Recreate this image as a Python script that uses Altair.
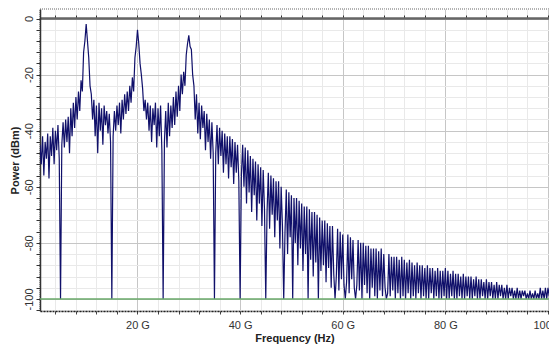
import altair as alt
import pandas as pd

STEP = 0.25  # GHz between samples

# Power (dBm), one block per 5 GHz
seg_01 = [-45, -52, -42, -56, -44, -50, -41, -57, -42, -49, -39, -52, -40, -47, -38, -50]
seg_05 = [-100, -45, -37, -46, -36, -44, -35, -48, -32, -42, -30, -39, -28, -36, -26, -33, -22, -26, -12, -8]
seg_10 = [-2, -8, -14, -24, -27, -36, -29, -42, -31, -48, -30, -40, -32, -45, -31, -38, -33, -41, -34, -44]
seg_15 = [-100, -42, -33, -40, -31, -38, -30, -41, -29, -36, -27, -34, -26, -33, -24, -30, -21, -26, -14, -10]
seg_20 = [-4, -9, -16, -20, -25, -33, -29, -36, -30, -40, -31, -44, -32, -38, -30, -46, -32, -42, -31, -47]
seg_25 = [-100, -44, -33, -46, -30, -42, -31, -39, -28, -38, -26, -35, -24, -33, -20, -27, -19, -24, -13, -9]
seg_30 = [-6, -10, -11, -20, -24, -36, -27, -41, -30, -43, -31, -39, -33, -47, -34, -44, -36, -50, -37, -48]
seg_35 = [-100, -48, -38, -52, -39, -49, -40, -55, -41, -52, -42, -57, -42, -53, -43, -59, -44, -55, -45, -58]
seg_40 = [-100, -56, -45, -60, -46, -66, -47, -62, -49, -69, -50, -63, -51, -72, -52, -66, -53, -74, -54, -68]
seg_45 = [-100, -69, -55, -75, -56, -70, -57, -78, -58, -72, -58, -82, -60, -74, -100, -76, -61, -84, -62, -78]
seg_50 = [-63, -100, -64, -80, -64, -88, -65, -82, -66, -90, -67, -84, -67, -100, -68, -86, -69, -92, -69, -87]
seg_55 = [-70, -100, -71, -90, -72, -88, -72, -94, -73, -89, -74, -96, -74, -91, -100, -92, -75, -97, -76, -93]
seg_60 = [-77, -95, -100, -94, -77, -98, -78, -93, -79, -96, -100, -95, -79, -97, -80, -100, -80, -95, -81, -98]
seg_65 = [-81, -100, -82, -96, -82, -99, -82, -100, -83, -97, -82, -99, -84, -96, -100, -98, -84, -99, -85, -97]
seg_70 = [-85, -100, -85, -98, -86, -100, -85, -99, -86, -100, -87, -98, -86, -100, -87, -99, -88, -100, -87, -98]
seg_75 = [-88, -100, -88, -99, -89, -100, -88, -100, -89, -98, -89, -100, -90, -99, -89, -100, -90, -100, -90, -99]
seg_80 = [-89, -100, -90, -100, -91, -99, -90, -100, -91, -100, -91, -99, -92, -100, -91, -100, -92, -99, -92, -100]
seg_85 = [-92, -100, -93, -99, -92, -100, -93, -100, -93, -99, -94, -100, -93, -100, -94, -99, -94, -100, -95, -100]
seg_90 = [-94, -100, -95, -99, -95, -100, -96, -100, -95, -100, -96, -99, -96, -100, -97, -100, -96, -100, -97, -100]
seg_95 = [-97, -99, -97, -100, -98, -100, -97, -100, -98, -100, -97, -100, -98, -100, -96, -100, -97, -100, -96, -100]
seg_100 = [-96, -99, -95, -100]

segments = [(1.0, seg_01), (5.0, seg_05), (10.0, seg_10), (15.0, seg_15), (20.0, seg_20),
            (25.0, seg_25), (30.0, seg_30), (35.0, seg_35), (40.0, seg_40), (45.0, seg_45),
            (50.0, seg_50), (55.0, seg_55), (60.0, seg_60), (65.0, seg_65), (70.0, seg_70),
            (75.0, seg_75), (80.0, seg_80), (85.0, seg_85), (90.0, seg_90), (95.0, seg_95),
            (100.0, seg_100)]

rows = []
for f0, vals in segments:
    for i, v in enumerate(vals):
        rows.append({"f": f0 + STEP * i, "p": v})
df = pd.DataFrame(rows)

x_ticks = list(range(4, 101, 4))
y_ticks = list(range(-104, 1, 4))
floor_level = [-100]

X_DOM = [1.0, 100.2]
Y_DOM = [-104.3, 3.4]
FONT = "Liberation Sans"

x_axis = alt.Axis(
    values=x_ticks,
    labelExpr="datum.value % 20 === 0 ? datum.value + ' G' : ''",
    title="Frequency (Hz)",
    titleFontWeight="bold", titleFontSize=11, titleColor="#222", titleFont=FONT,
    labelFontSize=11, labelColor="#333", labelFont=FONT, labelPadding=5,
    labelOverlap=False,
    grid=True,
    gridColor={"condition": {"test": "datum.value % 20 === 0", "value": "#c6c6c6"}, "value": "#e9e9e9"},
    domainColor="#222", domainDash=[2, 1], domainWidth=1.5,
    tickColor="#444", tickSize=3, titlePadding=2,
)
y_axis = alt.Axis(
    values=y_ticks,
    labelExpr="datum.value % 20 === 0 ? datum.value : ''",
    title="Power (dBm)",
    titleFontWeight="bold", titleFontSize=11, titleColor="#222", titleFont=FONT,
    labelFontSize=11, labelColor="#333", labelFont=FONT, labelAngle=-90,
    labelPadding=2, labelOverlap=False,
    grid=True,
    gridColor={"condition": {"test": "datum.value % 20 === 0", "value": "#c6c6c6"}, "value": "#e9e9e9"},
    domainColor="#333", domainWidth=1.5,
    tickColor="#333", tickSize=4, titlePadding=3,
)

spectrum = alt.Chart(df).mark_line(color="#10106a", strokeWidth=1.2, clip=True).encode(
    x=alt.X("f:Q", scale=alt.Scale(domain=X_DOM, nice=False, zero=False), axis=x_axis),
    y=alt.Y("p:Q", scale=alt.Scale(domain=Y_DOM, nice=False, zero=False), axis=y_axis),
)

# Zero-dBm line with ticks, drawn as a top axis moved into the plot
top_line = alt.Chart(df).mark_line(strokeOpacity=0).encode(
    x=alt.X("f:Q", scale=alt.Scale(domain=X_DOM, nice=False, zero=False),
            axis=alt.Axis(orient="top", values=x_ticks, labels=False, title=None, grid=False,
                          domainColor="#666", domainWidth=2.5, tickColor="#333", tickSize=3,
                          offset=-9)),
    y=alt.Y("p:Q", scale=alt.Scale(domain=Y_DOM, nice=False, zero=False), axis=None),
)

floor = alt.Chart(pd.DataFrame({"level": floor_level})).mark_rule(color="#6aaa6a", strokeWidth=1.5).encode(
    y=alt.Y("level:Q", scale=alt.Scale(domain=Y_DOM, nice=False, zero=False), axis=None),
)

chart = alt.layer(spectrum, floor, top_line).resolve_axis(x="independent", y="independent").properties(
    width=509, height=302,
    autosize=alt.AutoSizeParams(type="none"),
    padding={"left": 32, "top": 1, "right": 0, "bottom": 34},
    background="white",
).configure_view(stroke="#999", strokeDash=[1, 1], strokeWidth=1.5)

chart.save("out.html", embed_options={"renderer": "svg", "actions": False})
